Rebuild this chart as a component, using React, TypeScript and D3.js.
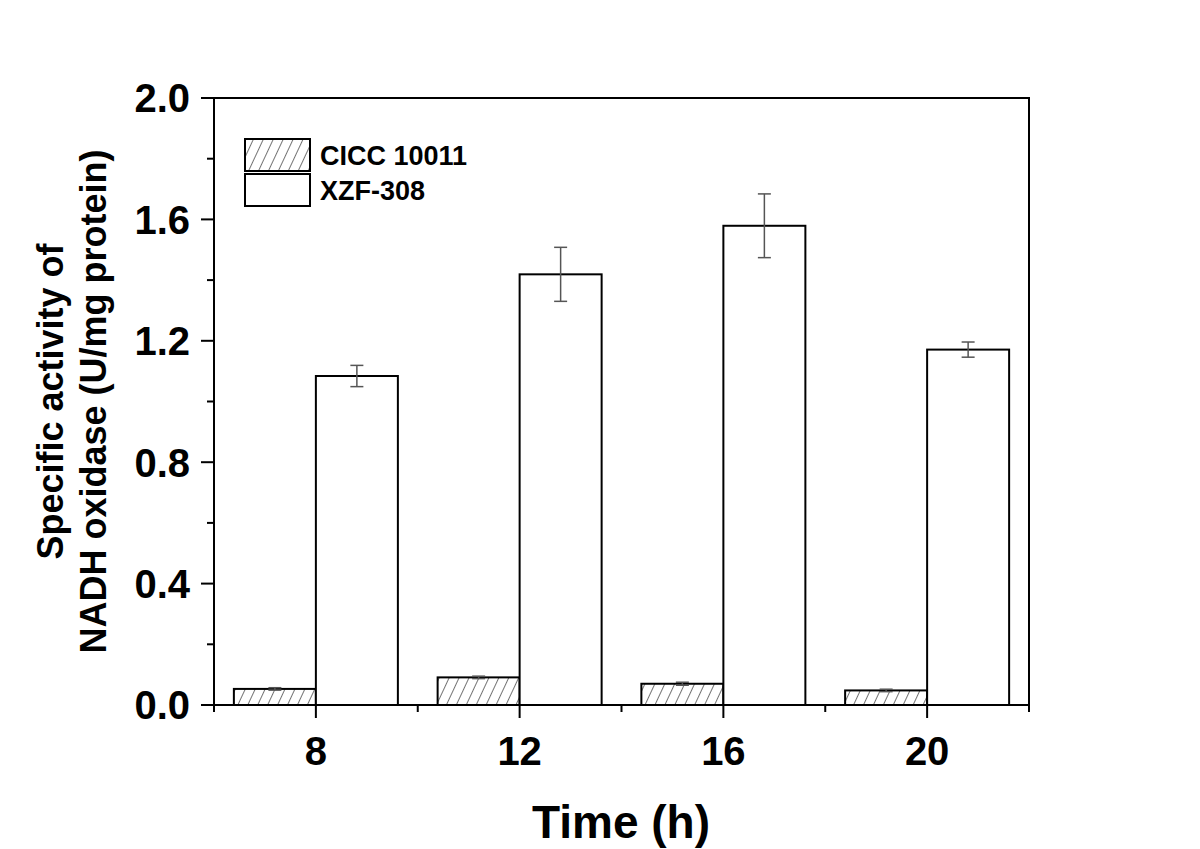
import React from "react";
import * as d3 from "d3";

const categories = ["8", "12", "16", "20"];
const ciccValues = [0.053, 0.091, 0.07, 0.048];
const ciccErrors = [0.004, 0.004, 0.005, 0.004];
const xzfValues = [1.084, 1.419, 1.579, 1.171];
const xzfErrors = [0.035, 0.089, 0.105, 0.025];
const yMajorTicks = [0, 0.4, 0.8, 1.2, 1.6, 2.0];
const yMinorTicks = [0.2, 0.6, 1.0, 1.4, 1.8];
const seriesNames = ["CICC 10011", "XZF-308"];

export default function App() {
  const W = 1200, H = 849;
  const left = 214, right = 1029, top = 98, bottom = 705;
  const x = d3.scaleBand<string>().domain(categories).range([left, right]).padding(0);
  const y = d3.scaleLinear().domain([0, 2.0]).range([bottom, top]);
  const barW = 82;
  const font = "'Liberation Sans', Arial, sans-serif";

  return (
    <svg width={W} height={H} style={{ position: "absolute", left: 0, top: 0, background: "#fff" }}>
      <defs>
        <pattern id="hatch" patternUnits="userSpaceOnUse" width="9" height="9" patternTransform="rotate(25)">
          <rect width="9" height="9" fill="#fff" />
          <line x1="0" y1="0" x2="0" y2="9" stroke="#000" strokeWidth="1.1" />
        </pattern>
      </defs>

      {/* bars */}
      {categories.map((c, i) => {
        const cx = (x(c) as number) + x.bandwidth() / 2;
        return (
          <g key={c}>
            <rect x={cx - barW} y={y(ciccValues[i])} width={barW} height={y(0) - y(ciccValues[i])}
              fill="url(#hatch)" stroke="#000" strokeWidth={2} />
            <rect x={cx} y={y(xzfValues[i])} width={barW} height={y(0) - y(xzfValues[i])}
              fill="#fff" stroke="#000" strokeWidth={2} />
          </g>
        );
      })}

      {/* error bars */}
      {categories.map((c, i) => {
        const cx = (x(c) as number) + x.bandwidth() / 2;
        const items = [
          { xc: cx - barW / 2, v: ciccValues[i], e: ciccErrors[i] },
          { xc: cx + barW / 2, v: xzfValues[i], e: xzfErrors[i] },
        ];
        return items.map((it, j) => (
          <g key={c + "e" + j} stroke="#555" strokeWidth={1.5}>
            <line x1={it.xc} x2={it.xc} y1={y(it.v + it.e)} y2={y(it.v - it.e)} />
            <line x1={it.xc - 6.5} x2={it.xc + 6.5} y1={y(it.v + it.e)} y2={y(it.v + it.e)} />
            <line x1={it.xc - 6.5} x2={it.xc + 6.5} y1={y(it.v - it.e)} y2={y(it.v - it.e)} />
          </g>
        ));
      })}

      {/* frame */}
      <rect x={left} y={top} width={right - left} height={bottom - top} fill="none" stroke="#000" strokeWidth={2} />

      {/* y ticks */}
      {yMajorTicks.map((t) => (
        <g key={"ym" + t}>
          <line x1={left - 13} x2={left} y1={y(t)} y2={y(t)} stroke="#000" strokeWidth={2} />
          <text x={190} y={y(t)} dy="0.36em" textAnchor="end" fontFamily={font} fontWeight="bold" fontSize={40}>
            {t.toFixed(1)}
          </text>
        </g>
      ))}
      {yMinorTicks.map((t) => (
        <line key={"yn" + t} x1={left - 7} x2={left} y1={y(t)} y2={y(t)} stroke="#000" strokeWidth={2} />
      ))}

      {/* x ticks */}
      {categories.map((c) => {
        const cx = (x(c) as number) + x.bandwidth() / 2;
        return (
          <g key={"xt" + c}>
            <line x1={cx} x2={cx} y1={bottom} y2={bottom + 13} stroke="#000" strokeWidth={2} />
            <text x={cx} y={765} textAnchor="middle" fontFamily={font} fontWeight="bold" fontSize={40}>{c}</text>
          </g>
        );
      })}
      {categories.concat(["end"]).map((c, i) => {
        const bx = left + i * x.bandwidth();
        return <line key={"xb" + i} x1={bx} x2={bx} y1={bottom} y2={bottom + 7} stroke="#000" strokeWidth={2} />;
      })}

      {/* axis titles */}
      <text x={621} y={838} textAnchor="middle" fontFamily={font} fontWeight="bold" fontSize={46}>Time (h)</text>
      <g transform={`translate(0, ${(top + bottom) / 2}) rotate(-90)`}>
        <text x={0} y={63} textAnchor="middle" fontFamily={font} fontWeight="bold" fontSize={36}>Specific activity of</text>
        <text x={0} y={106} textAnchor="middle" fontFamily={font} fontWeight="bold" fontSize={36}>NADH oxidase (U/mg protein)</text>
      </g>

      {/* legend */}
      <rect x={245} y={139} width={65} height={32} fill="url(#hatch)" stroke="#000" strokeWidth={2} />
      <rect x={245} y={174} width={65} height={32} fill="#fff" stroke="#000" strokeWidth={2} />
      <text x={320} y={165} fontFamily={font} fontWeight="bold" fontSize={27}>{seriesNames[0]}</text>
      <text x={320} y={200} fontFamily={font} fontWeight="bold" fontSize={27}>{seriesNames[1]}</text>
    </svg>
  );
}
